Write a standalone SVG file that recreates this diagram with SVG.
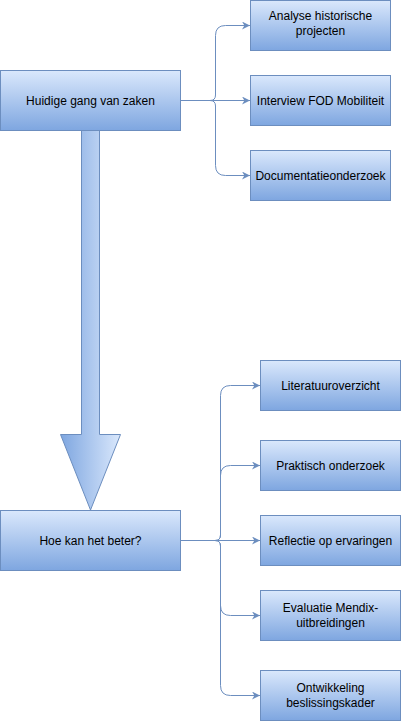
<svg xmlns="http://www.w3.org/2000/svg" width="401" height="721" viewBox="0 0 401 721">
<defs>
<linearGradient id="gv" x1="0" y1="0" x2="0" y2="1"><stop offset="0" stop-color="#dae8fc"/><stop offset="1" stop-color="#7ea6e0"/></linearGradient>
<linearGradient id="gh" x1="0" y1="0" x2="1" y2="0"><stop offset="0" stop-color="#7ea6e0"/><stop offset="1" stop-color="#dae8fc"/></linearGradient>
<marker id="ar" viewBox="0 0 10 10" refX="10" refY="5" markerWidth="8" markerHeight="8" markerUnits="userSpaceOnUse" orient="auto"><path d="M0 0 L10 5 L0 10 L3 5 Z" fill="#6c8ebf"/></marker>
<style>
.box{fill:url(#gv);stroke:#6c8ebf;stroke-width:1}
.t{font-family:"Liberation Sans",Arial,sans-serif;font-size:12px;fill:#000;text-anchor:middle}
.c{fill:none;stroke:#6c8ebf;stroke-width:1;marker-end:url(#ar)}
</style>
</defs>
<g id="bigarrow">
<path d="M81.5 130.5 L99.5 130.5 L99.5 434.5 L120.5 434.5 L90.5 510 L60.5 434.5 L81.5 434.5 Z" fill="url(#gh)" stroke="#6c8ebf"/>
</g>
<g id="connectors">
<path class="c" d="M180.5 100.5 L210 100.5 Q215.5 100.5 215.5 95 L215.5 35.5 Q215.5 25.5 225.5 25.5 L250 25.5"/>
<path class="c" d="M180.5 100.5 L250 100.5"/>
<path class="c" d="M180.5 100.5 L210 100.5 Q215.5 100.5 215.5 106 L215.5 165.5 Q215.5 175.5 225.5 175.5 L250 175.5"/>
<path class="c" d="M180.5 540.5 L215 540.5 Q220.5 540.5 220.5 535 L220.5 395.5 Q220.5 385.5 230.5 385.5 L260 385.5"/>
<path class="c" d="M180.5 540.5 L215 540.5 Q220.5 540.5 220.5 535 L220.5 475.5 Q220.5 465.5 230.5 465.5 L260 465.5"/>
<path class="c" d="M180.5 540.5 L260 540.5"/>
<path class="c" d="M180.5 540.5 L215 540.5 Q220.5 540.5 220.5 546 L220.5 605.5 Q220.5 615.5 230.5 615.5 L260 615.5"/>
<path class="c" d="M180.5 540.5 L215 540.5 Q220.5 540.5 220.5 546 L220.5 685.5 Q220.5 695.5 230.5 695.5 L260 695.5"/>
</g>
<g id="n-huidige"><rect class="box" x="0.5" y="70.5" width="180" height="60"/><text class="t" x="90.5" y="104.5">Huidige gang van zaken</text></g>
<g id="n-analyse"><rect class="box" x="250.5" y="0.5" width="140" height="50"/><text class="t" x="320.5" y="20">Analyse historische</text><text class="t" x="320.5" y="35">projecten</text></g>
<g id="n-interview"><rect class="box" x="250.5" y="75.5" width="140" height="50"/><text class="t" x="320.5" y="104.5">Interview FOD Mobiliteit</text></g>
<g id="n-doc"><rect class="box" x="250.5" y="150.5" width="140" height="50"/><text class="t" x="320.5" y="179.5">Documentatieonderzoek</text></g>
<g id="n-hoe"><rect class="box" x="0.5" y="510.5" width="180" height="60"/><text class="t" x="90.5" y="544.5">Hoe kan het beter?</text></g>
<g id="n-lit"><rect class="box" x="260.5" y="360.5" width="140" height="50"/><text class="t" x="330.5" y="389.5">Literatuuroverzicht</text></g>
<g id="n-prak"><rect class="box" x="260.5" y="440.5" width="140" height="50"/><text class="t" x="330.5" y="469.5">Praktisch onderzoek</text></g>
<g id="n-refl"><rect class="box" x="260.5" y="515.5" width="140" height="50"/><text class="t" x="330.5" y="544.5">Reflectie op ervaringen</text></g>
<g id="n-eval"><rect class="box" x="260.5" y="590.5" width="140" height="50"/><text class="t" x="330.5" y="612">Evaluatie Mendix-</text><text class="t" x="330.5" y="627">uitbreidingen</text></g>
<g id="n-ontw"><rect class="box" x="260.5" y="670.5" width="140" height="50"/><text class="t" x="330.5" y="692">Ontwikkeling</text><text class="t" x="330.5" y="707">beslissingskader</text></g>
</svg>
